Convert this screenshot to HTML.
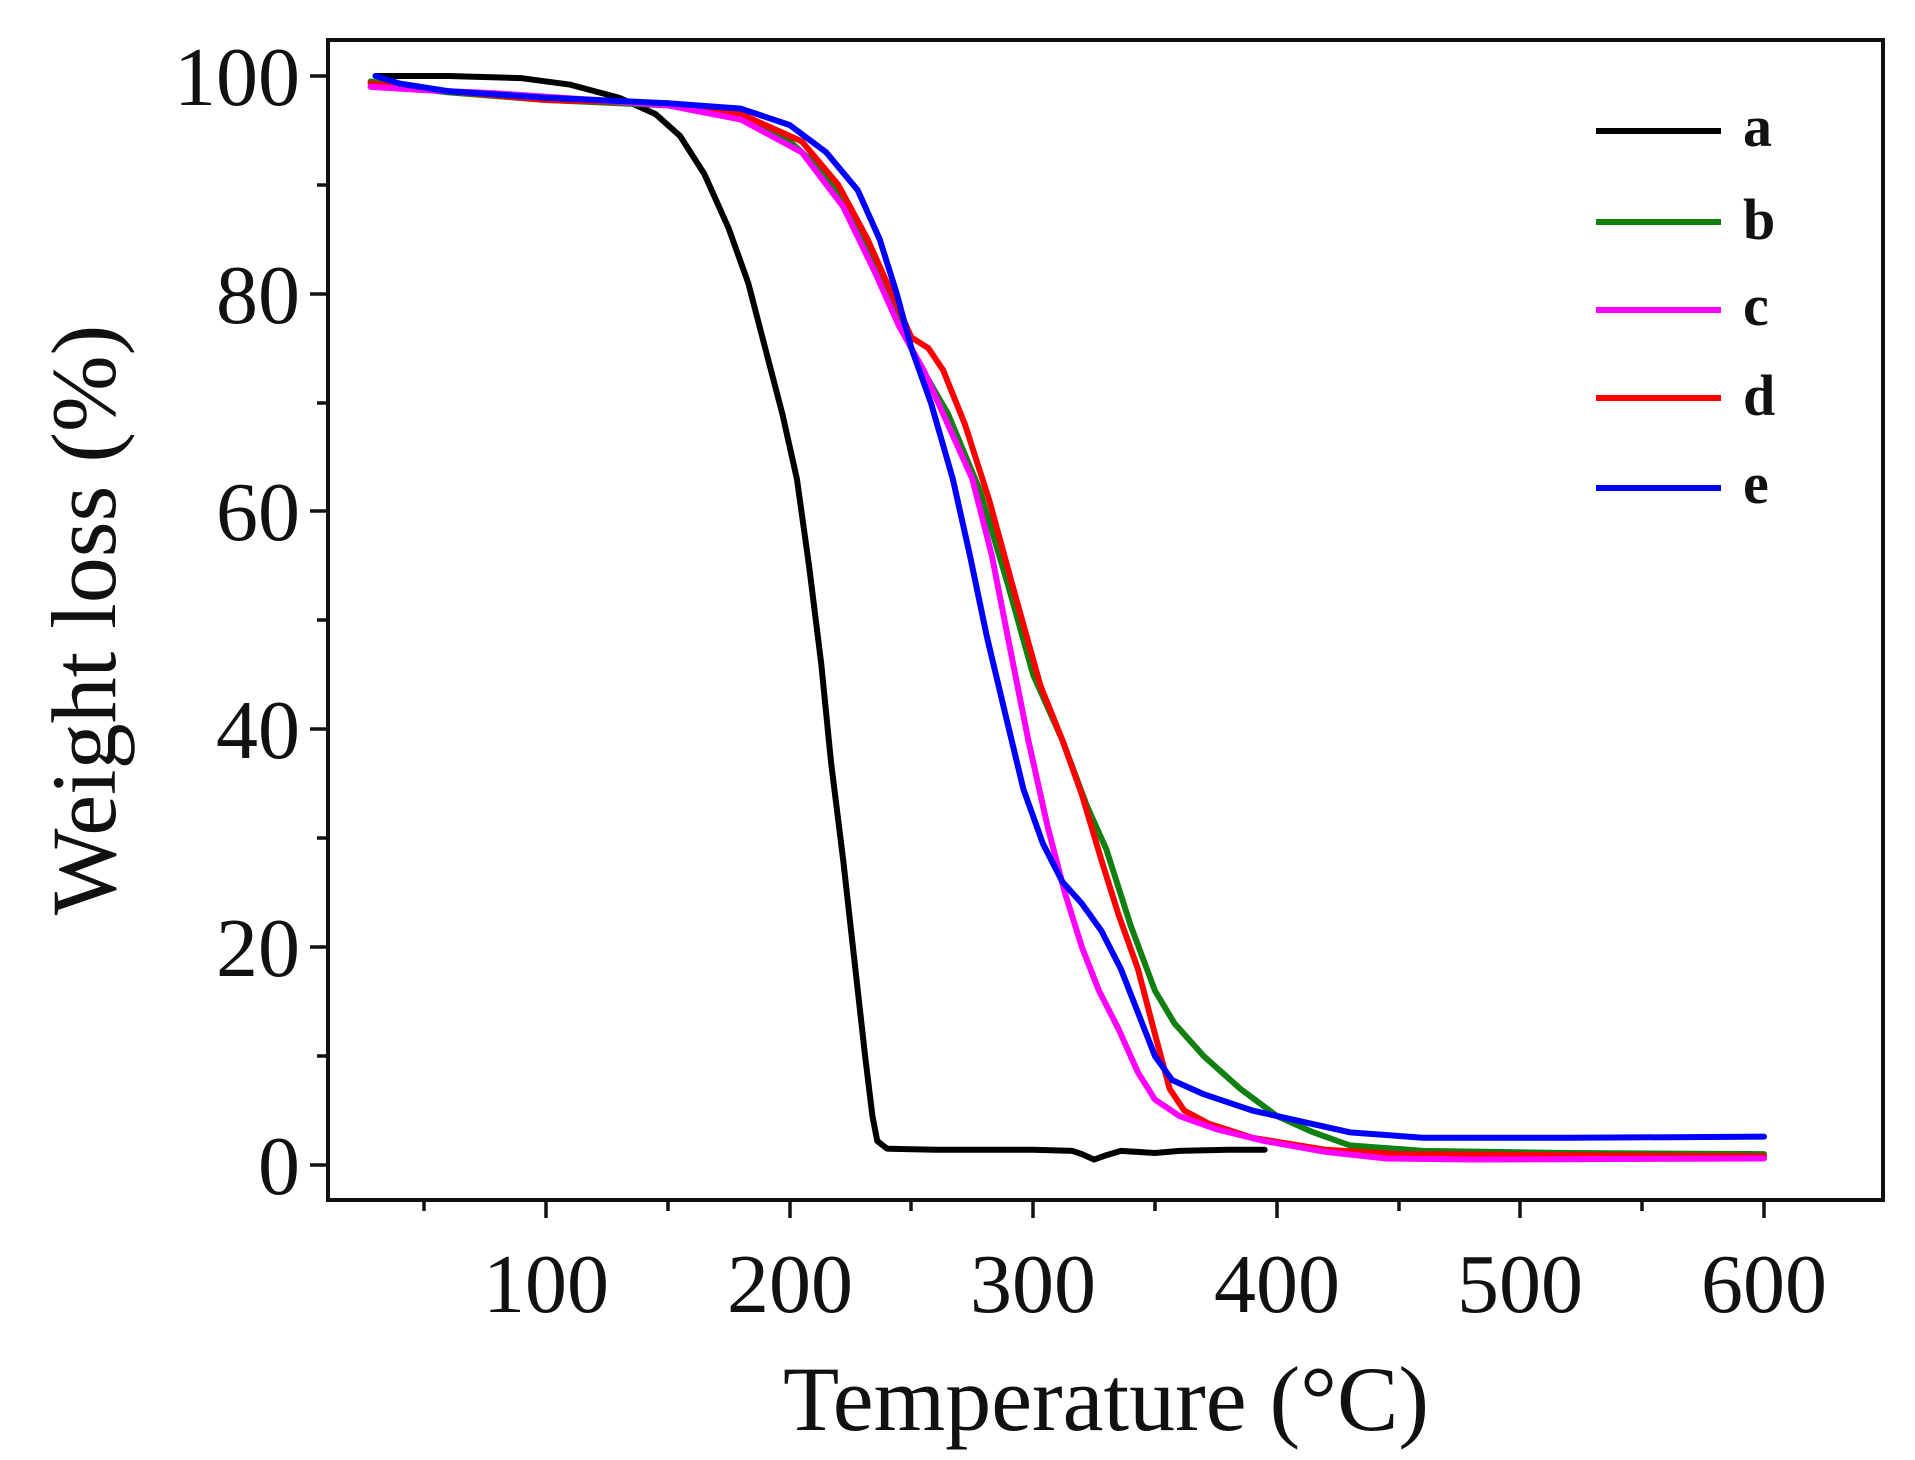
<!DOCTYPE html>
<html><head><meta charset="utf-8"><style>
html,body{margin:0;padding:0;background:#fff;}
svg{display:block;}
text{font-family:"Liberation Serif",serif;fill:#111;}
</style></head><body>
<svg width="1915" height="1460" viewBox="0 0 1915 1460" xmlns="http://www.w3.org/2000/svg">
<rect x="0" y="0" width="1915" height="1460" fill="#fff"/>
<rect x="328" y="40" width="1555" height="1160" fill="none" stroke="#111" stroke-width="4"/>
<g stroke="#111" stroke-width="3.5">
<line x1="424" y1="1200" x2="424" y2="1211"/>
<line x1="546" y1="1200" x2="546" y2="1218"/>
<line x1="668" y1="1200" x2="668" y2="1211"/>
<line x1="790" y1="1200" x2="790" y2="1218"/>
<line x1="911" y1="1200" x2="911" y2="1211"/>
<line x1="1033" y1="1200" x2="1033" y2="1218"/>
<line x1="1155" y1="1200" x2="1155" y2="1211"/>
<line x1="1277" y1="1200" x2="1277" y2="1218"/>
<line x1="1399" y1="1200" x2="1399" y2="1211"/>
<line x1="1520" y1="1200" x2="1520" y2="1218"/>
<line x1="1642" y1="1200" x2="1642" y2="1211"/>
<line x1="1764" y1="1200" x2="1764" y2="1218"/>
<line x1="310" y1="76" x2="328" y2="76"/>
<line x1="317" y1="185" x2="328" y2="185"/>
<line x1="310" y1="294" x2="328" y2="294"/>
<line x1="317" y1="403" x2="328" y2="403"/>
<line x1="310" y1="511" x2="328" y2="511"/>
<line x1="317" y1="620" x2="328" y2="620"/>
<line x1="310" y1="729" x2="328" y2="729"/>
<line x1="317" y1="838" x2="328" y2="838"/>
<line x1="310" y1="947" x2="328" y2="947"/>
<line x1="317" y1="1056" x2="328" y2="1056"/>
<line x1="310" y1="1165" x2="328" y2="1165"/>
</g>
<g font-size="84" text-anchor="middle">
<text x="546" y="1312">100</text>
<text x="790" y="1312">200</text>
<text x="1033" y="1312">300</text>
<text x="1277" y="1312">400</text>
<text x="1520" y="1312">500</text>
<text x="1764" y="1312">600</text>
</g>
<g font-size="84" text-anchor="end">
<text x="300" y="105">100</text>
<text x="300" y="323">80</text>
<text x="300" y="540">60</text>
<text x="300" y="758">40</text>
<text x="300" y="976">20</text>
<text x="300" y="1194">0</text>
</g>
<text x="1106" y="1430" font-size="92" text-anchor="middle">Temperature (°C)</text>
<text transform="translate(115,620) rotate(-90)" font-size="92" text-anchor="middle">Weight loss (%)</text>
<g stroke-width="6">
<line x1="1596" y1="131" x2="1721" y2="131" stroke="#000"/>
<line x1="1596" y1="222" x2="1721" y2="222" stroke="#108010"/>
<line x1="1596" y1="310" x2="1721" y2="310" stroke="#ff00ff"/>
<line x1="1596" y1="398" x2="1721" y2="398" stroke="#ff0000"/>
<line x1="1596" y1="488" x2="1721" y2="488" stroke="#0000ff"/>
</g>
<g font-size="58" font-weight="bold">
<text x="1743" y="146">a</text>
<text x="1743" y="239">b</text>
<text x="1743" y="325">c</text>
<text x="1743" y="415">d</text>
<text x="1743" y="503">e</text>
</g>
<g transform="matrix(2.436,0,0,-10.89,302.4,1165)" fill="none" stroke-width="6" stroke-linejoin="round" stroke-linecap="round">
<polyline vector-effect="non-scaling-stroke" stroke="#000" points="30,100 60,100 90,99.8 110,99.2 130,98 145,96.5 155,94.5 165,91 175,86 183,81 190,75 197,69 203,63 208,55 213,46 217,37 222,28 227,18 231,10 234,4.5 236,2.2 240,1.5 260,1.4 300,1.4 316,1.3 320,1.0 325,0.5 330,0.9 336,1.3 350,1.1 360,1.3 380,1.4 395,1.4"/>
<polyline vector-effect="non-scaling-stroke" stroke="#108010" points="28,99.5 40,99 60,98.5 100,97.8 150,97.3 175,96.5 200,94 215,91 228,86 240,80 252,74 265,69 278,62 290,53 300,45 312,39 322,33 330,29 340,22 350,16 358,13 370,10 385,7 400,4.5 415,3 430,1.8 460,1.3 520,1.1 600,1"/>
<polyline vector-effect="non-scaling-stroke" stroke="#ff0000" points="28,99.3 50,98.8 100,97.8 150,97.5 180,96.5 205,94 220,90 232,85 242,80 250,76 257,75 263,73 272,68 282,61 293,52 303,44 312,39 320,34 328,28 335,23 343,18 350,12 356,7 362,5 372,3.8 390,2.5 420,1.4 450,1.0 600,0.8"/>
<polyline vector-effect="non-scaling-stroke" stroke="#ff00ff" points="28,99 50,98.7 80,98.4 120,97.8 150,97.3 180,96 205,93 222,88 235,82 245,77 255,73 265,68 275,63 283,56 290,48 298,39 306,31 313,25 320,20 327,16 335,12.5 343,8.5 350,6 360,4.5 375,3.3 395,2.2 420,1.2 445,0.6 480,0.5 600,0.6"/>
<polyline vector-effect="non-scaling-stroke" stroke="#0000ff" points="30,100 40,99.3 60,98.6 100,98 150,97.5 180,97 200,95.5 215,93 228,89.5 237,85 244,80 250,75 258,70 267,63 274,56 281,48.5 289,41 296,34.5 304,29.5 312,26 320,24 328,21.5 336,18 343,14 350,10 357,7.8 370,6.5 390,5 410,4 430,3 460,2.5 520,2.5 600,2.6"/>
</g>
</svg>
</body></html>
